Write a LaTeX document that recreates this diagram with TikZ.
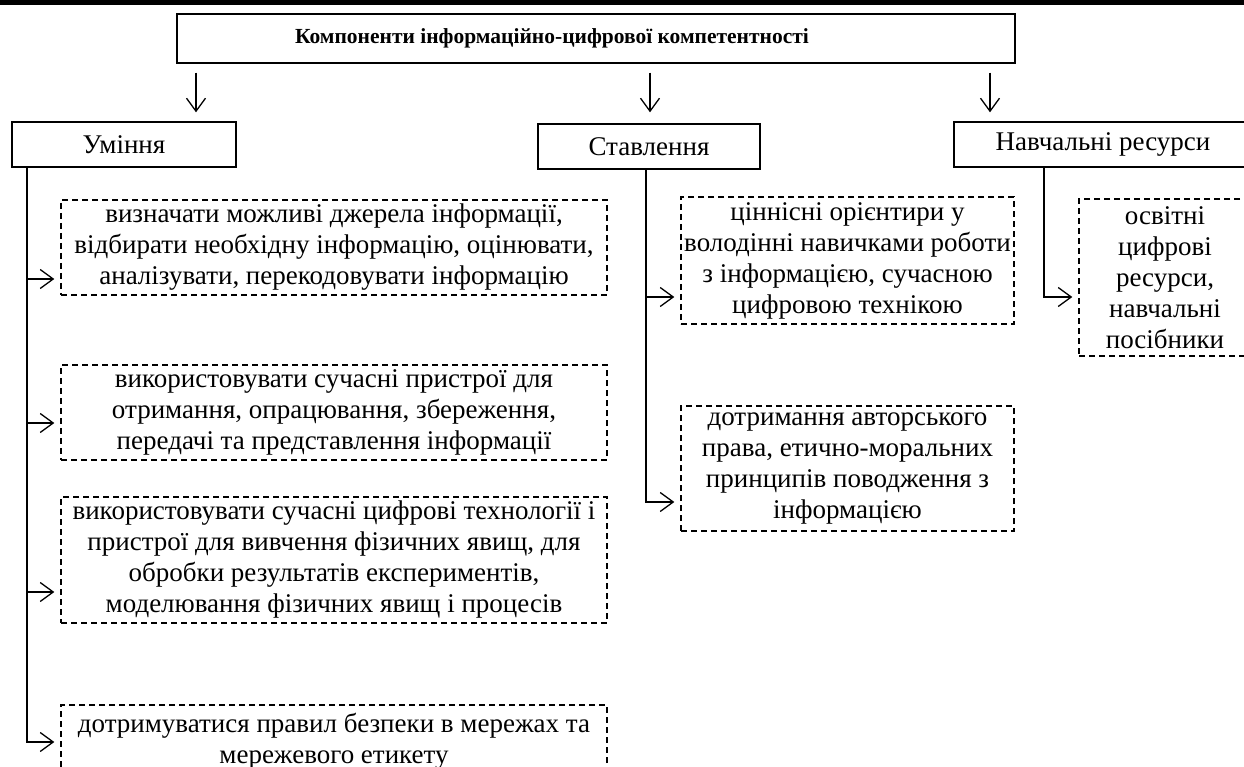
\documentclass[tikz,border=0pt]{standalone}
\usepackage{fontspec}
\setmainfont{Liberation Serif}
\usetikzlibrary{arrows.meta}
\begin{document}
\begin{tikzpicture}[x=1pt,y=1pt,
  base/.style={inner sep=0pt, align=center, font=\fontsize{27}{31}\selectfont},
  sbox/.style={base, draw, line width=1.4pt},
  dbox/.style={base, draw, line width=1.4pt, dash pattern=on 6pt off 4pt},
  arr/.style={line width=1.3pt, -{Straight Barb[length=13pt,width=19pt,line width=1.3pt]}},
  link/.style={line width=1.3pt}]
\useasboundingbox (0,0) rectangle (1244,-767);
\clip (0,0) rectangle (1244,-767);
% top rule
\draw[line width=5pt] (0,-2.5) -- (1244,-2.5);
% title
\node[sbox, minimum width=838pt, minimum height=49pt, font=\fontsize{21.5}{25}\selectfont\bfseries] (title) at (596,-38.5) {Компоненти інформаційно-цифрової компетентності\hspace*{88pt}};
% category boxes
\node[sbox, minimum width=224pt, minimum height=45pt] (umin) at (124,-144.5) {Уміння};
\node[sbox, minimum width=222pt, minimum height=45pt] (stav) at (649,-146.5) {Ставлення};
\node[sbox, minimum width=298pt, minimum height=45pt] (navch) at (1103,-144.5) {Навчальні ресурси};
% column 1
\node[dbox, minimum width=546pt, minimum height=95pt] (b1) at (334,-247.5) {визначати можливі джерела інформації,\\ відбирати необхідну інформацію, оцінювати,\\ аналізувати, перекодовувати інформацію};
\node[dbox, minimum width=546pt, minimum height=95pt] (b2) at (334,-412.5) {використовувати сучасні пристрої для\\ отримання, опрацювання, збереження,\\ передачі та представлення інформації};
\node[dbox, minimum width=546pt, minimum height=126pt] (b3) at (334,-560) {використовувати сучасні цифрові технології і\\ пристрої для вивчення фізичних явищ, для\\ обробки результатів експериментів,\\ моделювання фізичних явищ і процесів};
\node[dbox, minimum width=546pt, minimum height=72pt] (b4) at (334,-741) {дотримуватися правил безпеки в мережах та\\ мережевого етикету};
% column 2
\node[dbox, minimum width=333pt, minimum height=127pt] (c1) at (847.5,-260.5) {ціннісні орієнтири у\\ володінні навичками роботи\\ з інформацією, сучасною\\ цифровою технікою};
\node[dbox, minimum width=333pt, minimum height=125pt] (c2) at (847.5,-468.5) {дотримання авторського\\ права, етично-моральних\\ принципів поводження з\\ інформацією};
% column 3
\node[dbox, minimum width=172pt, minimum height=157pt] (d1) at (1165,-277.5) {освітні\\ цифрові\\ ресурси,\\ навчальні\\ посібники};
% arrows from title
\coordinate (a1) at (196,0);
\coordinate (a2) at (650,0);
\coordinate (a3) at (990,0);
\draw[arr, shorten <=9pt, shorten >=9pt] (title.south -| a1) -- (umin.north -| a1);
\draw[arr, shorten <=9pt, shorten >=11pt] (title.south -| a2) -- (stav.north -| a2);
\draw[arr, shorten <=9pt, shorten >=9pt] (title.south -| a3) -- (navch.north -| a3);
% trunks
\coordinate (t1) at (27,0);
\coordinate (t2) at (646,0);
\coordinate (t3) at (1044,0);
\coordinate (b1a) at ([yshift=-31.5pt]b1.west);
\coordinate (b2a) at ([yshift=-10.5pt]b2.west);
\coordinate (b3a) at ([yshift=-32pt]b3.west);
\coordinate (b4a) at ([yshift=-1pt]b4.west);
\coordinate (c1a) at ([yshift=-36.5pt]c1.west);
\coordinate (c2a) at ([yshift=-33.5pt]c2.west);
\coordinate (d1a) at ([yshift=-19.5pt]d1.west);
\draw[arr, shorten >=6pt] (umin.south -| t1) |- (b4a);
\draw[arr, shorten >=6pt] (t1 |- b1a) -- (b1a);
\draw[arr, shorten >=6pt] (t1 |- b2a) -- (b2a);
\draw[arr, shorten >=6pt] (t1 |- b3a) -- (b3a);
\draw[arr, shorten >=6pt] (stav.south -| t2) |- (c2a);
\draw[arr, shorten >=6pt] (t2 |- c1a) -- (c1a);
\draw[arr, shorten >=6pt] (navch.south -| t3) |- (d1a);
\end{tikzpicture}
\end{document}
